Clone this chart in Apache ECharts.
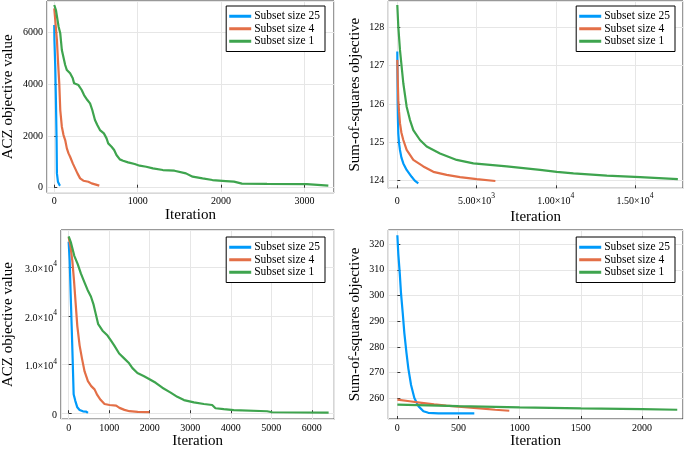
<!DOCTYPE html>
<html>
<head>
<meta charset="utf-8">
<script src="https://cdn.jsdelivr.net/npm/echarts@6/dist/echarts.min.js"></script>
<style>
html,body{margin:0;padding:0;background:#fff;}
#chart{width:685px;height:450px;}
</style>
</head>
<body>
<div id="chart"></div>
<script>
// ---------- data ----------
const seriesNames = ['Subset size 25', 'Subset size 4', 'Subset size 1'];
const seriesColors = ['#009AFA', '#E36F47', '#3EA44E'];

// Panel 1 (top-left): ACZ objective value
const p1_x25 = [0, 2, 12, 20, 28, 32, 44, 63, 71];
const p1_y25 = [6281, 5702, 4672, 3385, 1840, 553, 231, 103, 77];
const p1_x4 = [0, 12, 32, 44, 60, 72, 91, 111, 131, 151, 171, 190, 222, 250, 278, 310, 349, 409, 448, 540];
const p1_y4 = [6925, 6474, 5702, 4930, 4029, 2999, 2355, 2033, 1840, 1518, 1325, 1196, 939, 746, 553, 360, 270, 231, 167, 80];
const p1_x1 = [0, 20, 52, 72, 91, 131, 151, 190, 222, 238, 290, 329, 357, 397, 429, 456, 488, 516, 548, 595, 627, 647, 687, 718, 746, 786, 825, 885, 964, 1024, 1103, 1183, 1302, 1441, 1460, 1579, 1659, 1778, 1897, 2056, 2155, 2250, 2552, 3028, 3048, 3286];
const p1_y1 = [7054, 6861, 6217, 5960, 5316, 4737, 4543, 4415, 4222, 4029, 3964, 3771, 3578, 3385, 3256, 2999, 2612, 2419, 2226, 2097, 1904, 1711, 1582, 1454, 1261, 1094, 1042, 978, 913, 849, 810, 746, 682, 656, 579, 553, 425, 360, 296, 257, 232, 160, 150, 141, 90, 77];

// Panel 2 (top-right): Sum-of-squares objective
const p2_x25 = [0, 10, 21, 40, 63, 110, 168, 260, 379, 589, 905, 1100, 1326];
const p2_y25 = [127.37, 126.8, 126.1, 125.6, 125.23, 124.98, 124.8, 124.6, 124.45, 124.28, 124.1, 124.0, 123.93];
const p2_x4 = [0, 30, 63, 110, 168, 260, 379, 589, 1010, 1642, 2274, 3116, 3958, 5011, 6189];
const p2_y4 = [127.15, 126.6, 126.1, 125.8, 125.5, 125.25, 125.06, 124.8, 124.54, 124.37, 124.23, 124.15, 124.09, 124.04, 123.99];
const p2_x1 = [0, 63, 168, 379, 589, 800, 1010, 1432, 1853, 2695, 3747, 4800, 6905, 9010, 10063, 11116, 13221, 15326, 17705];
const p2_y1 = [128.58, 128.02, 127.41, 126.54, 125.93, 125.58, 125.32, 125.06, 124.89, 124.71, 124.54, 124.45, 124.37, 124.28, 124.23, 124.19, 124.13, 124.09, 124.04];

// Panel 3 (bottom-left): ACZ objective value
const p3_x25 = [0, 25, 49, 74, 98, 123, 164, 213, 270, 352, 434, 475];
const p3_y25 = [35300, 31410, 24700, 17990, 11290, 3900, 2550, 1210, 670, 400, 340, 70];
const p3_x4 = [0, 49, 90, 131, 172, 213, 270, 328, 393, 475, 557, 639, 705, 787, 885, 1008, 1172, 1254, 1377, 1500, 1705, 1992];
const p3_y4 = [36240, 34100, 31410, 27390, 22690, 17990, 13970, 11290, 8600, 6590, 5580, 4910, 3770, 2770, 1900, 1700, 1560, 1100, 690, 420, 290, 220];
const p3_x1 = [0, 57, 139, 221, 303, 385, 467, 549, 615, 672, 729, 836, 959, 1041, 1123, 1246, 1369, 1492, 1574, 1697, 1861, 1984, 2148, 2312, 2517, 2681, 2845, 3091, 3337, 3541, 3623, 3828, 4074, 4897, 5020, 6415];
const p3_y1 = [36405, 35100, 32400, 30740, 28730, 27050, 25370, 24030, 22350, 20340, 18330, 16990, 15980, 14980, 13970, 12290, 11290, 10280, 9280, 8270, 7600, 7060, 6260, 5250, 4250, 3370, 2700, 2230, 1900, 1700, 1030, 830, 640, 403, 201, 134];

// Panel 4 (bottom-right): Sum-of-squares objective
const p4_x25 = [0, 8, 20, 30, 44, 57, 74, 90, 112, 139, 172, 213, 253, 335, 445, 629];
const p4_y25 = [323.4, 316.0, 308.4, 300.8, 293.2, 285.5, 277.9, 271.6, 265.2, 260.2, 257.0, 255.0, 254.4, 254.2, 254.2, 254.2];
const p4_x4 = [0, 100, 200, 300, 400, 500, 600, 700, 800, 915];
const p4_y4 = [259.5, 258.9, 258.3, 257.7, 257.2, 256.8, 256.4, 256.0, 255.6, 255.2];
const p4_x1 = [0, 500, 1000, 1500, 2000, 2288];
const p4_y1 = [257.6, 257.0, 256.5, 256.1, 255.8, 255.6];

// tick labels (mantissa, exponent)
const p2XTickValues = [0, 5000, 10000, 15000];
const p2XTickMant = ['0', '5.00×10', '1.00×10', '1.50×10'];
const p2XTickExp = ['', '3', '4', '4'];
const p3YTickValues = [0, 10000, 20000, 30000];
const p3YTickMant = ['0', '1.0×10', '2.0×10', '3.0×10'];
const p3YTickExp = ['', '4', '4', '4'];

// ---------- chart ----------
const FONT = '"Liberation Serif", "DejaVu Serif", serif';
const TICK_FS = 10;
const zip = (xs, ys) => xs.map((x, i) => [x, ys[i]]);

const panels = [
  { grid: {left: 45, top: 1, width: 289, height: 191.7},
    x: {min: -87, max: 3354, step: 1000, nameGap: 15},
    y: {min: -193, max: 7208, step: 2000, nameGap: 31, name: 'ACZ objective value'},
    data: [[p1_x25, p1_y25], [p1_x4, p1_y4], [p1_x1, p1_y1]],
    legend: {right: 360, top: 6} },
  { grid: {left: 388.3, top: 1, width: 294.7, height: 187.3},
    x: {min: -568, max: 18029, step: 5000, nameGap: 21, vals: p2XTickValues, mant: p2XTickMant, exp: p2XTickExp},
    y: {min: 123.80, max: 128.686, step: 1, nameGap: 26, name: 'Sum-of-squares objective'},
    data: [[p2_x25, p2_y25], [p2_x4, p2_y4], [p2_x1, p2_y1]],
    legend: {right: 10, top: 6} },
  { grid: {left: 60, top: 230, width: 274.3, height: 193.3},
    x: {min: -189, max: 6555, step: 1000, nameGap: 14},
    y: {min: -1208, max: 37710, step: 10000, nameGap: 45, name: 'ACZ objective value', vals: p3YTickValues, mant: p3YTickMant, exp: p3YTickExp},
    data: [[p3_x25, p3_y25], [p3_x4, p3_y4], [p3_x1, p3_y1]],
    legend: {right: 360, top: 237} },
  { grid: {left: 388.3, top: 230, width: 294.7, height: 192.7},
    x: {min: -74, max: 2335, step: 500, nameGap: 15},
    y: {min: 252.0, max: 325.46, step: 10, nameGap: 26, name: 'Sum-of-squares objective'},
    data: [[p4_x25, p4_y25], [p4_x4, p4_y4], [p4_x1, p4_y1]],
    legend: {right: 10, top: 237} }
];

function fmt(spec) {
  return function (v) {
    if (spec.vals) {
      const i = spec.vals.findIndex(t => Math.abs(t - v) < 1e-6 * spec.step);
      if (i < 0) return '';
      if (!spec.exp[i]) return '{m|' + spec.mant[i] + '}';
      return '{m|' + spec.mant[i] + '}{s|' + spec.exp[i] + '}';
    }
    return String(Math.round(v * 1000) / 1000);
  };
}
const richTick = {
  m: {fontFamily: FONT, fontSize: TICK_FS, color: '#000', lineHeight: 14, verticalAlign: 'bottom'},
  s: {fontFamily: FONT, fontSize: 7.5, color: '#000', lineHeight: 14, verticalAlign: 'top'}
};

const grids = [], xAxes = [], yAxes = [], series = [], legends = [];
panels.forEach((p, k) => {
  grids.push(Object.assign({show: true, borderColor: '#333', borderWidth: 1, backgroundColor: 'transparent', containLabel: false}, p.grid));
  const common = {
    gridIndex: k, type: 'value',
    axisLine: {show: false},
    axisTick: {show: true, inside: true, length: 3, lineStyle: {color: '#333', width: 1}},
    splitLine: {show: true, lineStyle: {color: '#e6e6e6', width: 1}},
    nameLocation: 'middle',
    nameTextStyle: {fontFamily: FONT, fontSize: 15, color: '#000'}
  };
  xAxes.push(Object.assign({}, common, {
    min: p.x.min, max: p.x.max, minInterval: p.x.step, maxInterval: p.x.step,
    name: 'Iteration', nameGap: p.x.nameGap,
    axisLabel: {fontFamily: FONT, fontSize: TICK_FS, color: '#000', margin: 4, showMinLabel: false, showMaxLabel: false, formatter: fmt(p.x), rich: richTick}
  }));
  yAxes.push(Object.assign({}, common, {
    min: p.y.min, max: p.y.max, minInterval: p.y.step, maxInterval: p.y.step,
    name: p.y.name, nameGap: p.y.nameGap,
    axisLabel: {fontFamily: FONT, fontSize: TICK_FS, color: '#000', margin: 4, showMinLabel: false, showMaxLabel: false, formatter: fmt(p.y), rich: richTick}
  }));
  p.data.forEach((d, j) => {
    series.push({
      type: 'line', name: seriesNames[j], xAxisIndex: k, yAxisIndex: k,
      data: zip(d[0], d[1]), showSymbol: false, symbol: 'none',
      lineStyle: {width: 2.2, color: seriesColors[j]}, itemStyle: {color: seriesColors[j]},
      z: 3 + j
    });
  });
  legends.push({
    data: seriesNames, orient: 'vertical', right: p.legend.right, top: p.legend.top,
    icon: 'rect', itemWidth: 22, itemHeight: 3, itemGap: 0,
    padding: [4, 5, 4, 3], borderColor: '#000', borderWidth: 1, backgroundColor: '#fff',
    selectedMode: false,
    textStyle: {fontFamily: FONT, fontSize: 11.5, color: '#000', lineHeight: 12.5, padding: [0, 0, 0, -2]}
  });
});

const chart = echarts.init(document.getElementById('chart'), null, {renderer: 'canvas'});
chart.setOption({
  animation: false,
  backgroundColor: '#fff',
  grid: grids, xAxis: xAxes, yAxis: yAxes, series: series, legend: legends
});
</script>
</body>
</html>
